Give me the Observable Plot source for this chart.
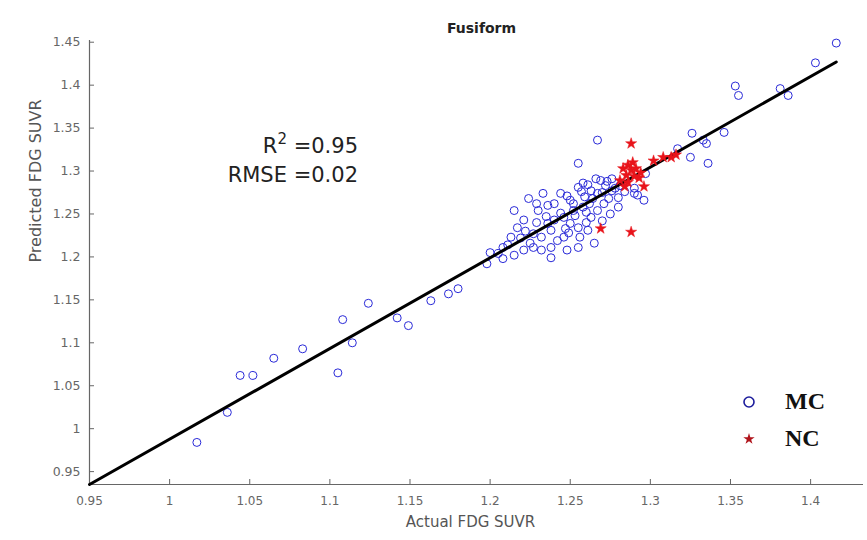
<!DOCTYPE html>
<html>
<head>
<meta charset="utf-8">
<script src="https://cdn.jsdelivr.net/npm/d3@7"></script>
<script src="https://cdn.jsdelivr.net/npm/@observablehq/plot@0.6"></script>
<style>
  body { margin: 0; background: #fff; }
  #wrap { position: relative; width: 867px; height: 540px; font-family: "DejaVu Sans", sans-serif; }
  #stats { position: absolute; left: 150px; top: 132px; width: 208px; text-align: right; font-size: 21px; line-height: 29px; color: #222; }
  #stats sup { font-size: 15px; vertical-align: 9px; line-height: 0; }
  #legend { position: absolute; left: 737px; top: 383px; font-family: "Liberation Serif", serif; font-weight: bold; font-size: 24px; color: #111; }
  #legend .row { display: flex; align-items: center; height: 37px; }
  #legend svg { width: 24px; height: 24px; margin-right: 24px; }
</style>
</head>
<body>
<div id="wrap">
  <div id="chart"></div>
  <div id="stats">R<sup>2</sup> =0.95<br>RMSE =0.02</div>
  <div id="legend">
    <div class="row"><svg viewBox="-12 -12 24 24"><circle r="5" fill="none" stroke="#1c1c9c" stroke-width="1.6"/></svg>MC</div>
    <div class="row"><svg viewBox="-12 -12 24 24" id="starIcon"></svg>NC</div>
  </div>
</div>
<script>
// Axis ticks
const xTicks = [0.95, 1, 1.05, 1.1, 1.15, 1.2, 1.25, 1.3, 1.35, 1.4];
const yTicks = [0.95, 1, 1.05, 1.1, 1.15, 1.2, 1.25, 1.3, 1.35, 1.4, 1.45];
const xDomain = [0.95, 1.433];
const yDomain = [0.935, 1.452];

// MC subjects: actual vs predicted FDG SUVR
const mcActual = [
  1.017, 1.036, 1.044, 1.052, 1.065, 1.083, 1.105, 1.108, 1.114, 1.124, 1.142, 1.149, 1.163, 1.174, 1.180, 1.198, 1.200,
  1.208, 1.215, 1.221, 1.227, 1.238, 1.232, 1.215, 1.221, 1.224, 1.233, 1.230, 1.240, 1.244, 1.250, 1.255, 1.258, 1.263, 1.267,
  1.250, 1.255, 1.256, 1.261, 1.246, 1.242, 1.238, 1.232, 1.227, 1.236, 1.240, 1.267, 1.271, 1.263, 1.248, 1.255, 1.225, 1.219,
  1.213, 1.217, 1.208, 1.205, 1.244, 1.258, 1.252, 1.238, 1.265, 1.255, 1.272, 1.276, 1.280, 1.269, 1.266, 1.276, 1.281, 1.296,
  1.292, 1.280, 1.275, 1.290, 1.267, 1.297, 1.290,
  1.246, 1.252, 1.259, 1.262, 1.270, 1.274, 1.278, 1.284, 1.253, 1.235, 1.229, 1.222, 1.211, 1.247, 1.260, 1.270, 1.264, 1.257,
  1.261, 1.273, 1.248, 1.236, 1.229, 1.260, 1.249,
  1.317, 1.326, 1.335, 1.325, 1.336, 1.333, 1.346, 1.353, 1.355, 1.381, 1.386, 1.403, 1.416
];
const mcPredicted = [
  0.984, 1.019, 1.062, 1.062, 1.082, 1.093, 1.065, 1.127, 1.100, 1.146, 1.129, 1.120, 1.149, 1.157, 1.163, 1.192, 1.205,
  1.198, 1.202, 1.208, 1.211, 1.199, 1.208, 1.254, 1.243, 1.268, 1.274, 1.254, 1.262, 1.251, 1.266, 1.281, 1.286, 1.277, 1.274,
  1.239, 1.234, 1.223, 1.231, 1.223, 1.219, 1.231, 1.223, 1.227, 1.239, 1.243, 1.254, 1.262, 1.246, 1.208, 1.211, 1.216, 1.222,
  1.223, 1.234, 1.211, 1.204, 1.274, 1.258, 1.254, 1.211, 1.216, 1.309, 1.283, 1.277, 1.269, 1.289, 1.291, 1.291, 1.283, 1.266,
  1.272, 1.258, 1.250, 1.280, 1.336, 1.297, 1.274,
  1.246, 1.262, 1.270, 1.262, 1.275, 1.268, 1.280, 1.276, 1.248, 1.247, 1.240, 1.230, 1.214, 1.233, 1.240, 1.242, 1.268, 1.276,
  1.284, 1.288, 1.271, 1.260, 1.262, 1.252, 1.228,
  1.326, 1.344, 1.332, 1.316, 1.309, 1.336, 1.345, 1.399, 1.388, 1.396, 1.388, 1.426, 1.449
];

// NC subjects
const ncActual = [
  1.283, 1.286, 1.289, 1.288, 1.291, 1.285, 1.290, 1.281, 1.286, 1.293, 1.284, 1.294,
  1.302, 1.308, 1.313, 1.316, 1.288, 1.296, 1.269, 1.288
];
const ncPredicted = [
  1.303, 1.307, 1.310, 1.301, 1.303, 1.295, 1.294, 1.289, 1.287, 1.292, 1.282, 1.298,
  1.312, 1.316, 1.316, 1.319, 1.332, 1.282, 1.233, 1.229
];

// Fitted regression line endpoints
const fitActual = [0.95, 1.416];
const fitPredicted = [0.935, 1.427];

const mc = mcActual.map((x, i) => ({x, y: mcPredicted[i]}));
const nc = ncActual.map((x, i) => ({x, y: ncPredicted[i]}));
const fit = fitActual.map((x, i) => ({x, y: fitPredicted[i]}));

const fmt = d => String(+d.toFixed(2));

const chart = Plot.plot({
  width: 867,
  height: 540,
  marginLeft: 89,
  marginRight: 4,
  marginTop: 40,
  marginBottom: 56,
  style: {fontFamily: "DejaVu Sans, sans-serif", background: "#fff"},
  x: {domain: xDomain},
  y: {domain: yDomain},
  marks: [
    Plot.ruleY([yDomain[0]], {stroke: "#666", strokeWidth: 1.2}),
    Plot.ruleX([xDomain[0]], {stroke: "#666", strokeWidth: 1.2}),
    Plot.axisX({ticks: xTicks, tickFormat: fmt, tickSize: -5, tickPadding: 17, fontSize: 12, color: "#666", label: null}),
    Plot.axisY({ticks: yTicks, tickFormat: fmt, tickSize: -5, tickPadding: 14, fontSize: 12.5, color: "#666", label: null}),
    Plot.dot(mc, {x: "x", y: "y", r: 4, stroke: "#2a2ad8", strokeWidth: 1, fill: "none"}),
    Plot.line(fit, {x: "x", y: "y", stroke: "#000", strokeWidth: 3}),
    Plot.dot(nc, {x: "x", y: "y", symbol: "star", r: 3.5, fill: "#e8141b", stroke: "#e8141b", strokeWidth: 0.5}),
    Plot.text(["Fusiform"], {frameAnchor: "top", dy: -17, dx: 5, fontWeight: "bold", fontSize: 14, fill: "#222"}),
    Plot.text(["Actual FDG SUVR"], {frameAnchor: "bottom", dy: 42, dx: -6, fontSize: 15, fill: "#555"}),
    Plot.text(["Predicted FDG SUVR"], {frameAnchor: "left", dx: -54, rotate: -90, fontSize: 16, fill: "#555"})
  ]
});
document.getElementById("chart").appendChild(chart);

// Legend star icon uses the same symbol as the NC marks
const star = d3.symbol(d3.symbolStar, 40)();
document.getElementById("starIcon").innerHTML = `<path d="${star}" fill="#b0141b"/>`;
</script>
</body>
</html>
